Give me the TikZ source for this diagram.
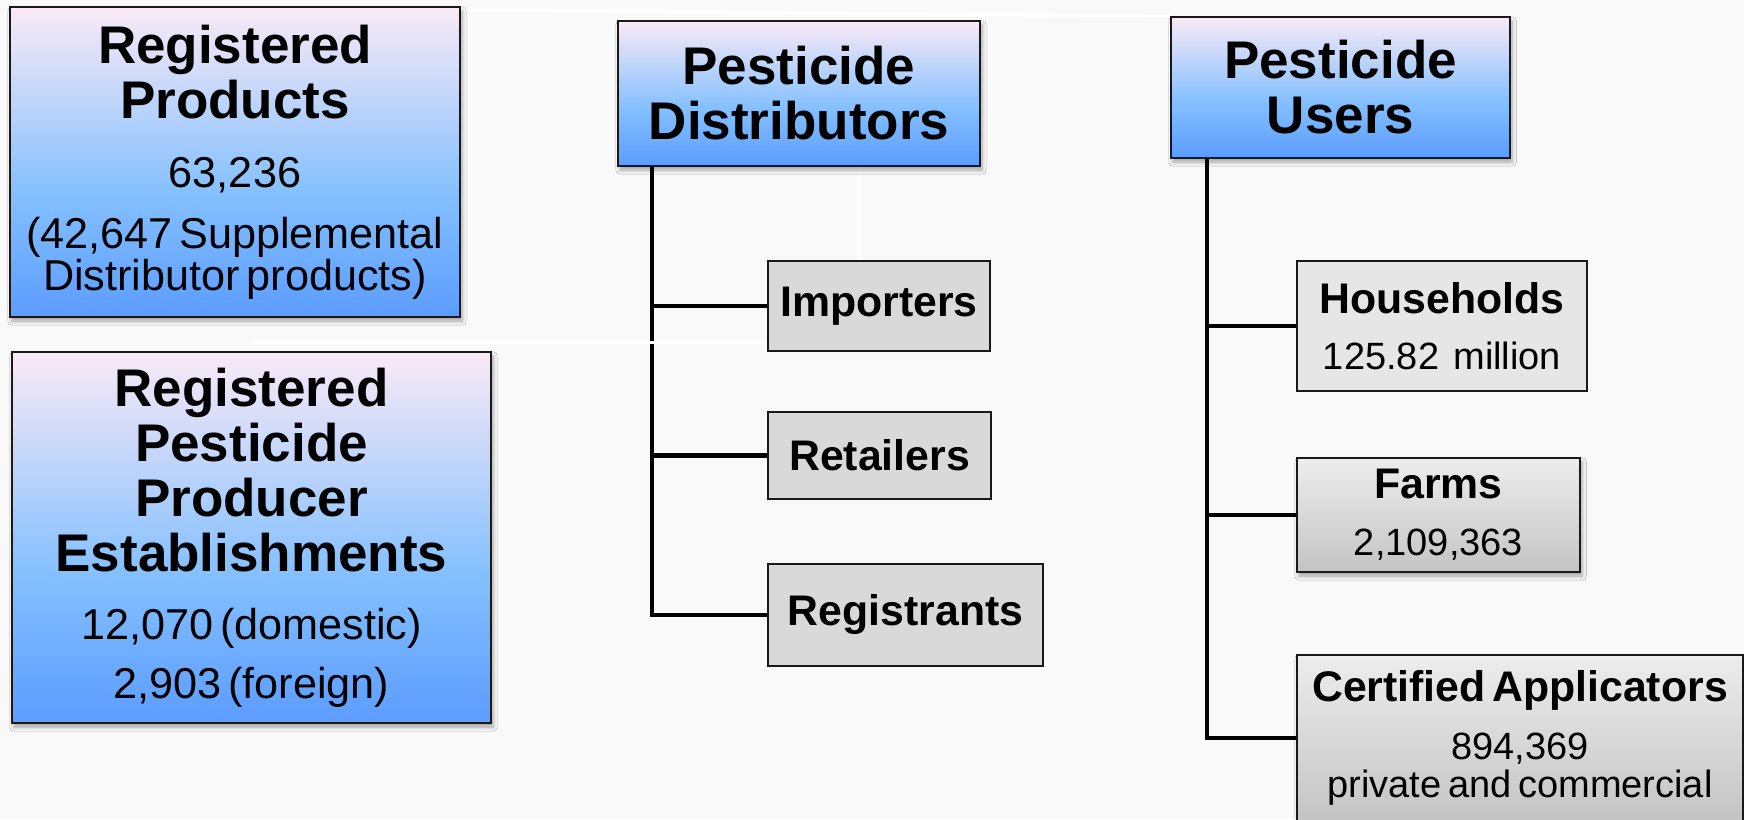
\documentclass[tikz,border=0pt]{standalone}
\usepackage{fontspec}
\setmainfont{Liberation Sans}
\usetikzlibrary{positioning,shadows.blur,backgrounds}

\definecolor{bgpaper}{HTML}{F9F9F9}
\definecolor{bluetop}{HTML}{FAEAF6}
\definecolor{bluemid}{HTML}{84C0FF}
\definecolor{bluebot}{HTML}{5C9CFF}
\definecolor{graybox}{HTML}{D9D9D9}
\definecolor{grayhouse}{HTML}{E6E6E6}
\definecolor{graytop}{HTML}{EDEDED}
\definecolor{graybot}{HTML}{C4C4C4}

\pgfdeclareverticalshading{bluefill}{100bp}{color(0bp)=(bluebot); color(25bp)=(bluebot); color(45bp)=(bluemid); color(75bp)=(bluetop); color(100bp)=(bluetop)}

\newcommand{\hdfont}{\fontsize{26.5pt}{27.5pt}\selectfont\bfseries}
\newcommand{\bdfont}{\fontsize{21.6pt}{21pt}\selectfont\mdseries}
\newcommand{\gbfont}{\fontsize{21.4pt}{22pt}\selectfont\bfseries}
\newcommand{\grfont}{\fontsize{19pt}{22pt}\selectfont\mdseries}

\tikzset{
  boxshadow/.style={blur shadow={shadow xshift=1pt, shadow yshift=-2pt, shadow blur steps=6, shadow opacity=35}},
  bluebox/.style={draw=black!90, line width=1pt, shade, shading=bluefill, inner sep=0pt, align=center, anchor=north west, boxshadow},
  flatbox/.style={draw=black!90, line width=1pt, fill=graybox, inner sep=0pt, align=center, anchor=north west, font=\gbfont},
  shadebox/.style={draw=black!90, line width=1pt, top color=graytop, bottom color=graybot, inner sep=0pt, align=center, anchor=north west, boxshadow},
  trunk/.style={line width=2.4pt},
  ghost/.style={white, line width=1.5pt}
}

\begin{document}
\begin{tikzpicture}[x=0.5pt,y=-0.5pt]
\useasboundingbox (0,0) rectangle (1744,819);
\clip (0,0) rectangle (1744,819);

\node[bluebox, minimum width=225pt, minimum height=155pt, text width=222pt] (prod) at (9,6)
  {{\hdfont Registered\\Products\par}\vspace{13.5pt}{\bdfont 63,236\par}\vspace{9.5pt}{\bdfont (42,647 Supplemental\\Distributor products)\par}};
\node[bluebox, minimum width=239.5pt, minimum height=185.5pt, text width=234pt] (estab) at (11,351)
  {{\hdfont Registered\\Pesticide\\Producer\\Establishments\par}\vspace{13pt}{\bdfont 12,070 (domestic)\par}\vspace{8.3pt}{\bdfont 2,903 (foreign)\par}};
\node[bluebox, minimum width=181pt, minimum height=72.5pt, text width=176pt] (dist) at (617,20)
  {\hdfont Pesticide\\Distributors\par};
\node[bluebox, minimum width=169.5pt, minimum height=70.5pt, text width=164pt] (users) at (1170,16)
  {\hdfont Pesticide\\Users\par};

\node[flatbox, minimum width=111pt, minimum height=45pt] (imp) at (767,260) {Importers};
\node[flatbox, minimum width=111.5pt, minimum height=43.5pt] (ret) at (767,411) {Retailers};
\node[flatbox, minimum width=137.5pt, minimum height=51pt] (regt) at (767,563) {Registrants};

\node[flatbox, fill=grayhouse, minimum width=145pt, minimum height=65pt, text width=140pt] (house) at (1296,260)
  {{\gbfont Households\par}\vspace{6pt}{\grfont 125.82 million\par}};
\node[shadebox, minimum width=141.5pt, minimum height=57pt, text width=136pt] (farms) at (1296,457)
  {{\gbfont Farms\par}\vspace{6.5pt}{\grfont 2,109,363\par}};
\node[shadebox, minimum width=223pt, minimum height=83pt, text width=220pt] (cert) at (1296,654)
  {{\gbfont Certified Applicators\par}\vspace{10pt}{\fontsize{19pt}{19pt}\selectfont\mdseries 894,369\\private and commercial\par}};

\coordinate (dtrunk) at ([xshift=17.5pt]dist.south west);
\draw[trunk] (dtrunk) |- (regt.west);
\foreach \b in {imp,ret}
  \draw[trunk] (dtrunk |- \b.west) -- (\b.west);

\coordinate (utrunk) at ([xshift=18.5pt]users.south west);
\draw[trunk] (utrunk) |- (cert.west);
\foreach \b in {house,farms}
  \draw[trunk] (utrunk |- \b.west) -- (\b.west);

\draw[ghost] ([yshift=4.5pt]estab.north) -- ([yshift=4.5pt]estab.north -| imp.west);

\begin{scope}[on background layer]
\fill[bgpaper] (0,0) rectangle (1744,819);
\draw[ghost] ([yshift=-2pt]prod.north east) -- (users.north west);
\draw[ghost] ([xshift=121pt]dist.south west) -- ([xshift=121pt]dist.south west |- imp.north);
\end{scope}
\end{tikzpicture}
\end{document}
